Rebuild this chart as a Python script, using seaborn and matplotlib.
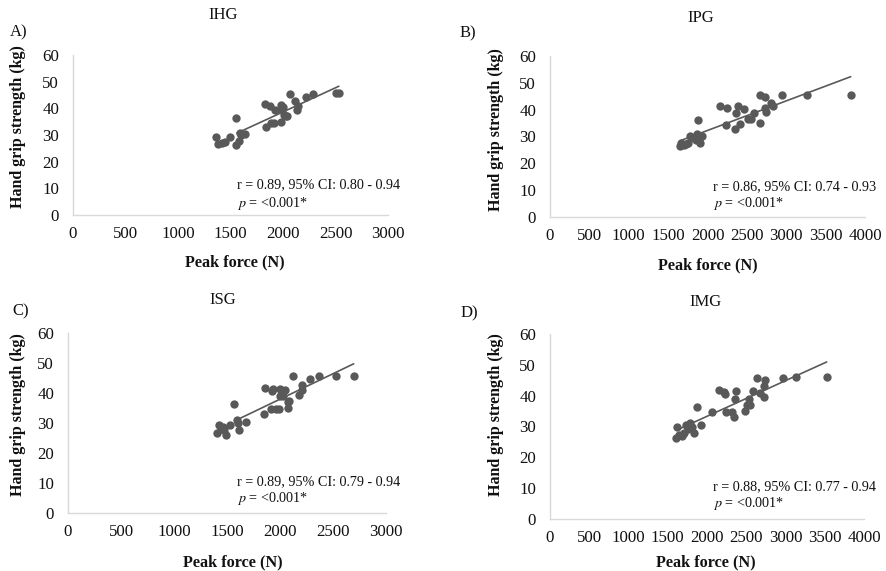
import numpy as np
import pandas as pd
import matplotlib
matplotlib.use("Agg")
import matplotlib.pyplot as plt
import seaborn as sns

# ---------------- data ----------------
ihg_force = [1361, 1383, 1415, 1446, 1494, 1551, 1557, 1582, 1589, 1604, 1636,
             1826, 1835, 1880, 1889, 1911, 1921, 1978, 1984, 1994, 2000, 2006,
             2025, 2038, 2070, 2111, 2136, 2142, 2222, 2285, 2506, 2532]
ihg_grip = [29.4, 26.6, 27.1, 27.5, 29.4, 26.3, 36.3, 27.9, 30.6, 30.0, 30.3,
            41.5, 33.1, 40.9, 34.6, 34.6, 39.4, 41.1, 35.0, 39.4, 40.4, 37.5,
            37.1, 37.1, 45.4, 42.9, 39.4, 40.9, 44.4, 45.3, 45.6, 45.6]

ipg_force = [1654, 1667, 1680, 1697, 1722, 1752, 1773, 1824, 1858, 1867, 1879,
             1892, 1909, 1935, 2163, 2240, 2248, 2346, 2367, 2392, 2418, 2460,
             2516, 2558, 2588, 2672, 2672, 2727, 2727, 2749, 2812, 2834, 2952,
             3266, 3818]
ipg_grip = [26.3, 27.6, 27.1, 26.7, 27.3, 27.6, 30.1, 29.6, 28.6, 30.8, 36.3,
            29.2, 27.6, 30.1, 41.2, 34.4, 40.6, 32.9, 38.8, 41.2, 34.5, 40.4,
            36.6, 36.6, 38.9, 45.3, 35.0, 44.7, 40.7, 39.1, 42.5, 41.2, 45.3,
            45.6, 45.6]

isg_force = [1402, 1427, 1440, 1459, 1472, 1491, 1529, 1570, 1598, 1607, 1617,
             1677, 1853, 1859, 1913, 1923, 1932, 1963, 1995, 2001, 2001, 2026,
             2049, 2071, 2071, 2084, 2127, 2175, 2206, 2206, 2279, 2370, 2531,
             2695]
isg_grip = [26.7, 29.4, 28.0, 28.7, 27.8, 26.1, 29.4, 36.3, 31.1, 30.0, 27.8,
            30.2, 33.1, 41.7, 34.7, 40.6, 41.4, 34.7, 34.7, 41.4, 39.1, 38.9,
            40.9, 36.9, 35.0, 37.2, 45.6, 39.4, 41.1, 42.8, 44.8, 45.6, 45.8,
            45.8]

img_force = [1605, 1614, 1647, 1677, 1707, 1732, 1754, 1783, 1805, 1834, 1868,
             1919, 2059, 2157, 2221, 2229, 2242, 2314, 2348, 2357, 2369, 2484,
             2505, 2539, 2548, 2582, 2633, 2675, 2726, 2730, 2739, 2964, 3134,
             3524]
img_grip = [26.4, 29.7, 27.4, 27.0, 28.0, 30.5, 29.1, 31.0, 29.7, 28.0, 36.4,
            30.5, 34.8, 41.9, 41.3, 40.6, 34.8, 34.8, 33.2, 38.8, 41.6, 35.1,
            37.0, 38.8, 37.0, 41.6, 45.7, 41.0, 39.5, 43.0, 45.0, 45.7, 45.9,
            45.9]

titles = ["IHG", "IPG", "ISG", "IMG"]
panel_tags = ["A)", "B)", "C)", "D)"]
stats_text = ["r = 0.89, 95% CI: 0.80 - 0.94",
              "r = 0.86, 95% CI: 0.74 - 0.93",
              "r = 0.89, 95% CI: 0.79 - 0.94",
              "r = 0.88, 95% CI: 0.77 - 0.94"]
x_max = [3000, 4000, 3000, 4000]
fit_x_start = [1560, 1654, 1617, 1635]   # where the drawn trend line begins
y_ticks = [0, 10, 20, 30, 40, 50, 60]

forces = [ihg_force, ipg_force, isg_force, img_force]
grips = [ihg_grip, ipg_grip, isg_grip, img_grip]

# ---------------- style ----------------
sns.set_theme(style="white")
plt.rcParams["font.family"] = ["Liberation Serif", "DejaVu Serif"]
plt.rcParams["mathtext.fontset"] = "stix"

W, H = 886, 571
fig = plt.figure(figsize=(W / 100, H / 100), dpi=100)

# axes boxes in pixels: left, top(60-line), right, bottom(0-line)
boxes = [(73, 55, 388, 215), (550, 56, 865, 217),
         (68, 333, 386, 513), (550, 334, 864, 519)]
title_pos = [(223, 15), (701, 18), (223, 300), (706, 302)]
tag_pos = [(10, 32), (460, 33), (12, 311), (461, 313)]
ylab_pos = [(18, 127), (496, 130), (18, 415), (496, 415)]
xlab_pos = [(235, 262), (708, 265), (233, 562), (706, 562)]
txt_frac = [(0.52, 0.19, 0.075), (0.517, 0.186, 0.081),
            (0.531, 0.174, 0.078), (0.519, 0.175, 0.086)]

dot = "#595959"
grid_gray = "#d9d9d9"
ink = "#111111"

for i in range(4):
    l, t, r, b = boxes[i]
    ax = fig.add_axes([l / W, 1 - b / H, (r - l) / W, (b - t) / H])
    df = pd.DataFrame({"force": forces[i], "grip": grips[i]})
    sns.scatterplot(data=df, x="force", y="grip", ax=ax, color=dot, s=36,
                    edgecolor=dot, linewidth=0, zorder=3)
    k, c = np.polyfit(df["force"], df["grip"], 1)
    xs = np.array([fit_x_start[i], df["force"].max()])
    fit_df = pd.DataFrame({"force": xs, "grip": k * xs + c})
    sns.lineplot(data=fit_df, x="force", y="grip", ax=ax, color=dot,
                 linewidth=1.2, zorder=4)

    ax.set_xlim(0, x_max[i])
    ax.set_ylim(0, 60)
    ax.set_xticks(np.arange(0, x_max[i] + 1, 500))
    ax.set_yticks(y_ticks)
    ax.set_xlabel("")
    ax.set_ylabel("")
    ax.tick_params(axis="both", length=0, labelsize=12.2, colors=ink)
    ax.tick_params(axis="x", pad=8)
    ax.tick_params(axis="y", pad=10)
    for s in ["top", "right"]:
        ax.spines[s].set_visible(False)
    for s in ["left", "bottom"]:
        ax.spines[s].set_color(grid_gray)
        ax.spines[s].set_linewidth(1.0)
    ax.grid(False)
    ax.patch.set_alpha(0)

    fx, fy1, fy2 = txt_frac[i]
    ax.text(fx, fy1, stats_text[i], transform=ax.transAxes, fontsize=10.2,
            va="center", ha="left", color=ink)
    ax.text(fx, fy2, r"$\mathit{p}$ = <0.001*", transform=ax.transAxes,
            fontsize=10.2, va="center", ha="left", color=ink)

    tx, ty = title_pos[i]
    fig.text(tx / W, 1 - ty / H, titles[i], ha="center", va="center",
             fontsize=12, color=ink)
    gx, gy = tag_pos[i]
    fig.text(gx / W, 1 - gy / H, panel_tags[i], ha="left", va="center",
             fontsize=12, color=ink)
    yx, yy = ylab_pos[i]
    fig.text(yx / W, 1 - yy / H, "Hand grip strength (kg)", rotation=90,
             ha="center", va="center", fontsize=11.5, fontweight="bold",
             color=ink)
    xx, xy = xlab_pos[i]
    fig.text(xx / W, 1 - xy / H, "Peak force (N)", ha="center", va="center",
             fontsize=11.7, fontweight="bold", color=ink)

fig.savefig("out.png", dpi=100)
